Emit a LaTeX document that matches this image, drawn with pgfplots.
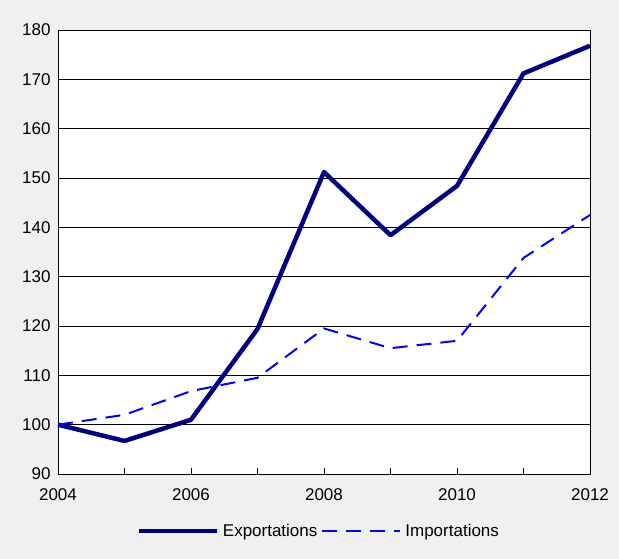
\documentclass[border=0pt]{standalone}
\usepackage{pgfplots}
\pgfplotsset{compat=1.18}
\usepackage{fontspec}
\setmainfont{Liberation Sans}
\usetikzlibrary{backgrounds}
\definecolor{bg}{HTML}{F0F0F0}
\definecolor{expcol}{HTML}{000080}
\definecolor{impcol}{HTML}{0000FF}
\begin{document}
\begin{tikzpicture}[background rectangle/.style={fill=bg,draw=none}, show background rectangle]
\useasboundingbox (-58pt,-85pt) rectangle (561pt,474pt);
\begin{axis}[
  scale only axis,
  width=532pt, height=444pt,
  at={(0pt,0pt)}, anchor=south west,
  xmin=2004, xmax=2012,
  ymin=90, ymax=180,
  xtick={2004,2006,...,2012},
  minor xtick={2005,2007,...,2011},
  ytick={90,100,...,180},
  /pgf/number format/assume math mode=true,
  tick label style={font=\fontsize{17}{19}\selectfont, black},
  xticklabel style={/pgf/number format/1000 sep={}, yshift=-11pt},
  yticklabel style={xshift=-4pt},
  ymajorgrids,
  grid style={black, line width=0.6pt},
  axis line style={black, line width=0.8pt},
  tick style={black, line width=0.6pt},
  major tick length=6pt, minor tick length=6pt,
  ytick style={draw=none},
  tick align=inside,
  xtick pos=bottom,
  axis background/.style={fill=white},
  legend columns=2,
  legend style={at={(0.49,-0.128)}, anchor=center, draw=none, fill=none,
    font=\fontsize{17}{19}\selectfont, column sep=2pt, inner sep=0pt},
  legend cell align=left,
  legend image code/.code={\draw[#1] (0pt,0pt) -- (78pt,0pt);},
]
\addplot[expcol, line width=4.5pt, line join=round] coordinates {
  (2004,100) (2005,96.7) (2006,101.0) (2007,119.4) (2008,151.2)
  (2009,138.4) (2010,148.4) (2011,171.2) (2012,176.8)};
\addlegendentry{Exportations}
\addplot[impcol, line width=2pt, dash pattern=on 15pt off 9pt] coordinates {
  (2004,100) (2005,102.0) (2006,106.8) (2007,109.5) (2008,119.5)
  (2009,115.5) (2010,117.0) (2011,133.8) (2012,142.5)};
\addlegendentry{Importations}
\end{axis}
\end{tikzpicture}
\end{document}
